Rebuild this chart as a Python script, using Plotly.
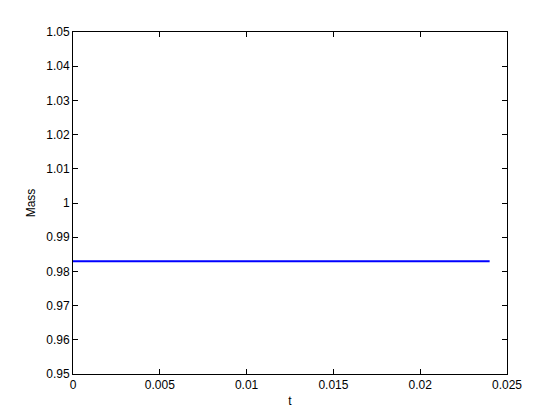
import plotly.graph_objects as go

# Mass over time (constant)
t = [0.0, 0.024]
mass = [0.983, 0.983]

x_ticks = [0, 0.005, 0.01, 0.015, 0.02, 0.025]
x_labels = ["0", "0.005", "0.01", "0.015", "0.02", "0.025"]
y_ticks = [0.95, 0.96, 0.97, 0.98, 0.99, 1.0, 1.01, 1.02, 1.03, 1.04, 1.05]
y_labels = ["0.95", "0.96", "0.97", "0.98", "0.99", "1", "1.01", "1.02", "1.03", "1.04", "1.05"]

fig = go.Figure(
    go.Scatter(x=t, y=mass, mode="lines", line=dict(color="#0000ff", width=2))
)

axis_style = dict(
    showgrid=False,
    zeroline=False,
    showline=True,
    linecolor="black",
    linewidth=1,
    mirror="ticks",
    ticks="inside",
    ticklen=5,
    tickcolor="black",
    tickfont=dict(size=12, color="black"),
)

fig.update_xaxes(
    axis_style,
    range=[0, 0.025],
    tickvals=x_ticks,
    ticktext=x_labels,
    title=dict(text="t", font=dict(size=12, color="black"), standoff=5),
)
fig.update_yaxes(
    axis_style,
    range=[0.95, 1.05],
    tickvals=y_ticks,
    ticktext=y_labels,
    title=dict(text="Mass", font=dict(size=12, color="black"), standoff=8),
)

# page body adds an 8px offset, so margins are shifted to compensate
fig.update_layout(
    width=560,
    height=420,
    margin=dict(l=65, r=61, t=24, b=54),
    paper_bgcolor="white",
    plot_bgcolor="white",
    showlegend=False,
    font=dict(family="Liberation Sans, Arial, sans-serif"),
)

fig.write_html("out.html")
